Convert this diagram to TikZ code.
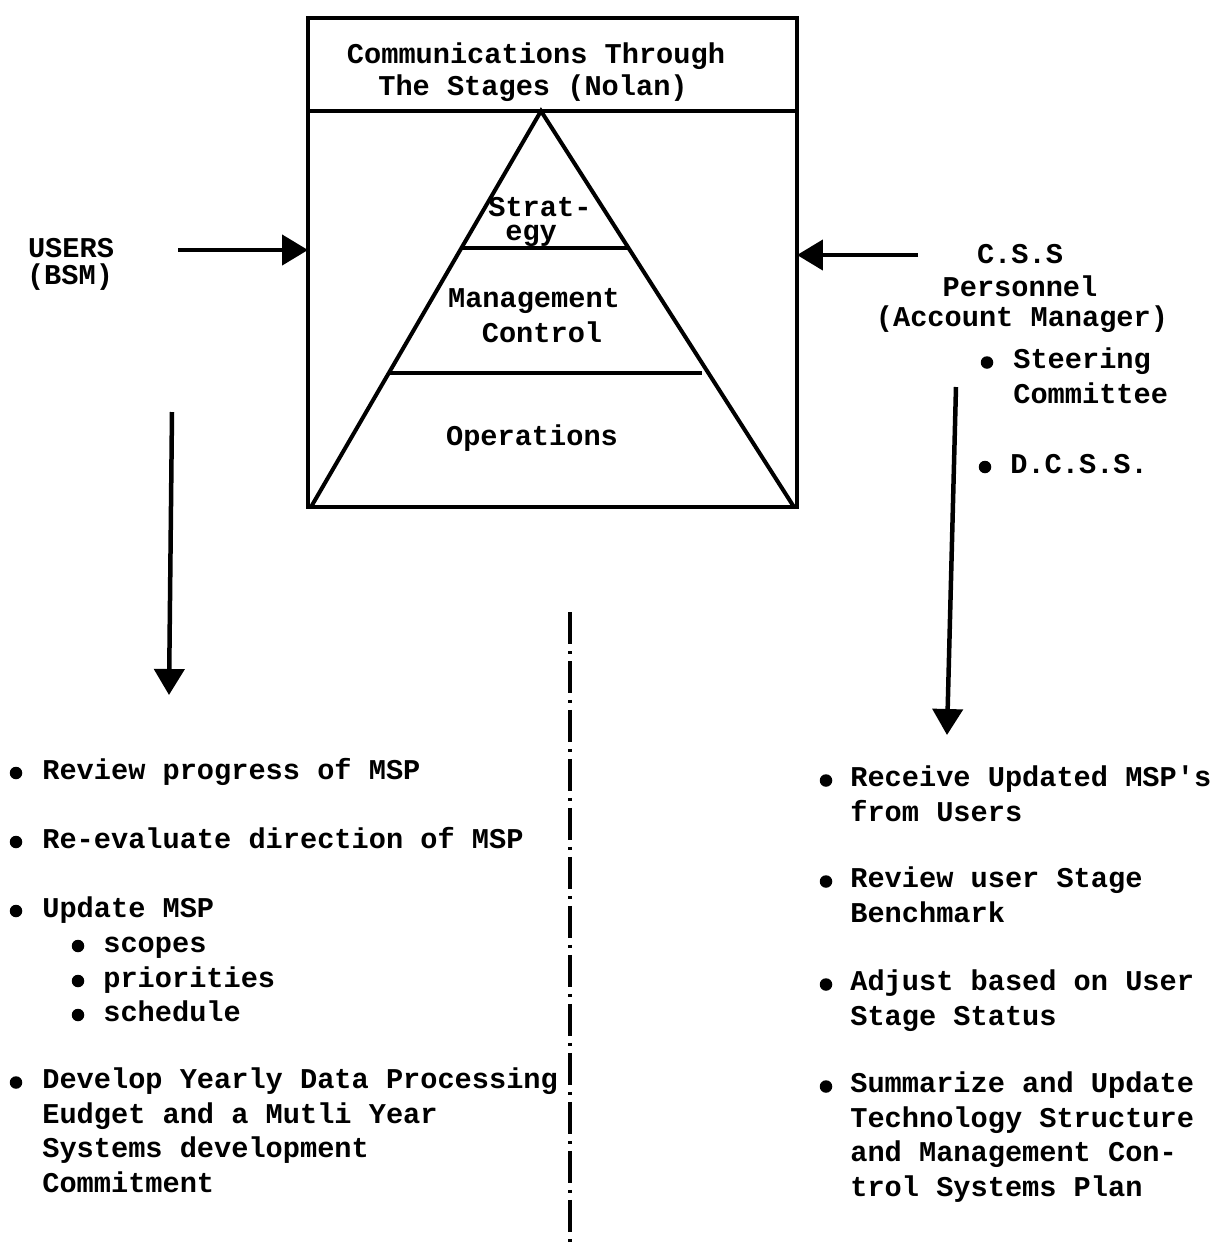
\documentclass[tikz,border=0pt]{standalone}
\usepackage{fontspec}
\setmainfont{Liberation Mono}
\usetikzlibrary{positioning, arrows.meta, calc}
\tikzset{
	pfeil/.style = {line width=0.09cm, -{Triangle[length=0.52cm, width=0.6cm]}},
	linie/.style = {line width=0.08cm}
}

\begin{document}
\begin{tikzpicture}[
			x=0.02cm, y=-0.02cm,
			every node/.append style={font=\fontsize{16.3}{19.6}\selectfont\bfseries},
			zeile/.style={inner sep=0pt, anchor=base west, align=left},
			mitte/.style={inner sep=0pt, anchor=base},
			punkt/.style={circle, fill=black, inner sep=0pt, minimum size=0.25cm},
			trenner/.style={line width=0.08cm, dash pattern=on 0.64cm off 0.14cm on 0.06cm off 0.14cm}
			]
			\useasboundingbox (0,0) rectangle (1219,1249);

			% Kasten mit Kopfzeile
			\coordinate (nw) at (308,18);
			\coordinate (se) at (797,507);
			\coordinate (kopfL) at (308,111);
			\coordinate (kopfR) at (797,111);
			\draw[linie] (nw) rectangle (se);
			\draw[linie] (kopfL) -- (kopfR);
			\node[mitte] (titel1) at (536,63) {Communications Through};
			\node[mitte] (titel2) at (533,95) {The Stages (Nolan)};

			% Pyramide mit drei Ebenen
			\coordinate (spitze) at (541,111);
			\coordinate (fussL) at (311,507);
			\coordinate (fussR) at (794,507);
			\draw[linie, line join=miter] (fussL) -- (spitze) -- (fussR);
			\draw[linie] ($(spitze)!0.346!(fussL)$) -- ($(spitze)!0.346!(fussR)$);
			\draw[linie] ($(spitze)!0.662!(fussL)$) -- ($(spitze)!0.662!(fussR) + (-6,0)$);
			\node[zeile] (strat) at (488,216) {Strat-};
			\node[zeile] (egy) at (505,240) {egy};
			\node[mitte] (mgmt1) at (534,307) {Management};
			\node[mitte] (mgmt2) at (542,342) {Control};
			\node[mitte] (ops) at (532,445) {Operations};

			% Users links
			\node[mitte] (users) at (71,257) {USERS};
			\node[mitte] (bsm) at (70,284) {(BSM)};
			\coordinate (usersstart) at (178,250);
			\draw[pfeil] (usersstart) -- (usersstart -| nw);

			% C.S.S rechts
			\node[mitte] (css1) at (1020,263) {C.S.S};
			\node[mitte] (css2) at (1020,296) {Personnel};
			\node[mitte] (css3) at (1022,326) {(Account Manager)};
			\node[zeile] (steer) at (1013,403) {Steering\\Committee};
			\node[zeile] (dcss) at (1010,473) {D.C.S.S.};
			\node[punkt] at ([xshift=-0.52cm, yshift=0.81cm]steer.base west) {};
			\node[punkt] at ([xshift=-0.5cm, yshift=0.12cm]dcss.base west) {};
			\coordinate (cssstart) at (918,255);
			\draw[pfeil] (cssstart) -- (cssstart -| se);

			% Pfeile nach unten
			\coordinate (linksoben) at (172,412);
			\coordinate (linksunten) at (169,695);
			\coordinate (rechtsoben) at (956,387);
			\coordinate (rechtsunten) at (947,735);
			\draw[pfeil] (linksoben) -- (linksunten);
			\draw[pfeil] (rechtsoben) -- (rechtsunten);

			% Trennlinie
			\coordinate (trennO) at (570,612);
			\coordinate (trennU) at (570,1249);
			\draw[trenner] (trennO) -- (trennU);

			% Liste links (Anker = letzte Zeile)
			\node[zeile] (l1) at (42,779) {Review progress of MSP};
			\node[zeile] (l2) at (42,848) {Re-evaluate direction of MSP};
			\node[zeile] (l3) at (42,917) {Update MSP};
			\node[zeile] (l3a) at (103,952) {scopes};
			\node[zeile] (l3b) at (103,987) {priorities};
			\node[zeile] (l3c) at (103,1021) {schedule};
			\node[zeile] (l4) at (42,1192) {Develop Yearly Data Processing\\Eudget and a Mutli Year\\Systems development\\Commitment};
			\foreach \n/\h in {l1/0.12,l2/0.12,l3/0.12,l4/2.19}
				\node[punkt] at ([xshift=-0.52cm, yshift=\h cm]\n.base west) {};
			\foreach \n in {l3a,l3b,l3c}
				\node[punkt] at ([xshift=-0.5cm, yshift=0.12cm]\n.base west) {};

			% Liste rechts
			\node[zeile] (r1) at (850,821) {Receive Updated MSP\textquotesingle s\\from Users};
			\node[zeile] (r2) at (850,922) {Review user Stage\\Benchmark};
			\node[zeile] (r3) at (850,1025) {Adjust based on User\\Stage Status};
			\node[zeile] (r4) at (850,1196) {Summarize and Update\\Technology Structure\\and Management Con-\\trol Systems Plan};
			\foreach \n/\h in {r1/0.81,r2/0.81,r3/0.81,r4/2.19}
				\node[punkt] at ([xshift=-0.48cm, yshift=\h cm]\n.base west) {};
		\end{tikzpicture}
\end{document}
